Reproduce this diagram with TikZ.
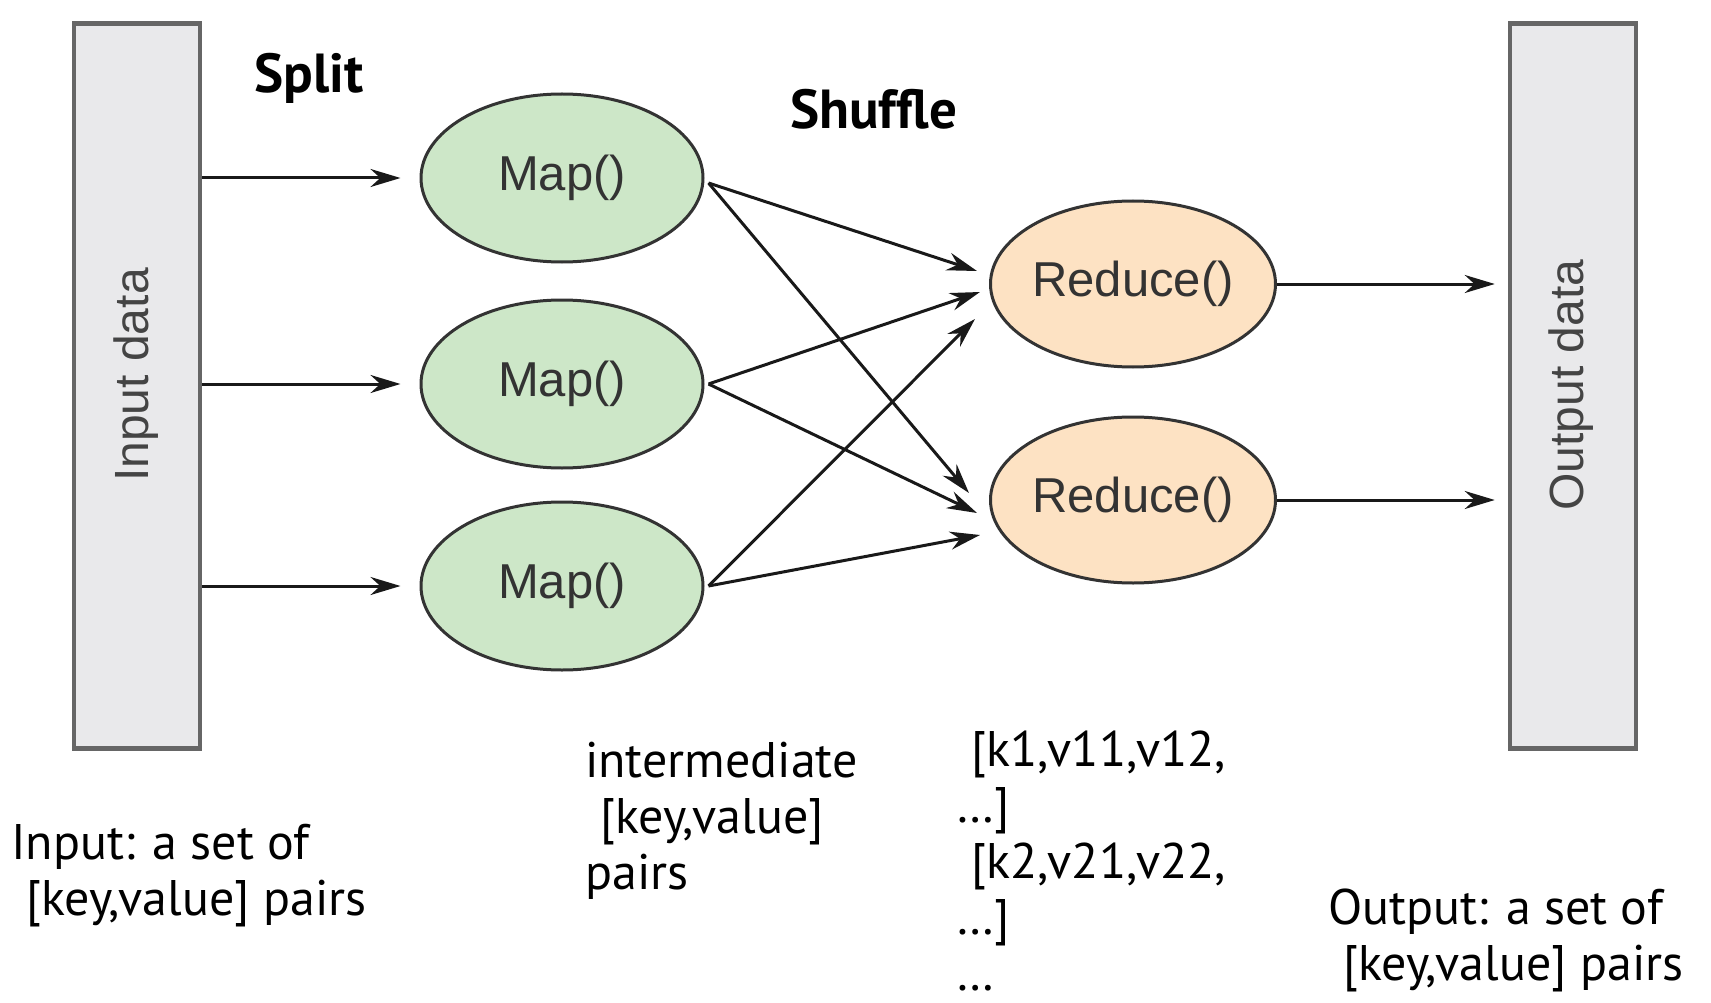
\documentclass[tikz,border=0pt]{standalone}
\usepackage{fontspec}
\setmainfont{PT Sans}
\newfontfamily\arialf{Liberation Sans}
\usetikzlibrary{shapes.geometric,arrows.meta,calc}
\definecolor{mapfill}{HTML}{CDE7C8}
\definecolor{redfill}{HTML}{FDE2C3}
\definecolor{boxfill}{HTML}{E9E9EB}
\definecolor{boxline}{HTML}{666666}
\definecolor{ellline}{HTML}{333333}
\definecolor{ltext}{HTML}{444444}
\begin{document}
\begin{tikzpicture}[x=1pt,y=-1pt,
  databox/.style={draw=boxline,fill=boxfill,line width=4.5pt,minimum width=126pt,minimum height=725pt,inner sep=0pt},
  boxlabel/.style={font=\arialf\fontsize{48}{56}\selectfont,text=ltext,rotate=90},
  mapnode/.style={ellipse,draw=ellline,line width=3pt,fill=mapfill,minimum width=282pt,minimum height=168pt,inner sep=0pt,font=\arialf\fontsize{49}{56}\selectfont,text=ellline},
  rednode/.style={ellipse,draw=ellline,line width=3pt,fill=redfill,minimum width=284pt,minimum height=166pt,inner sep=0pt,font=\arialf\fontsize{49}{56}\selectfont,text=ellline},
  arr/.style={line width=3pt,draw=black!90,-{Stealth[length=30pt,width=18pt]}},
  steplabel/.style={font=\bfseries\fontsize{55}{60}\selectfont,anchor=base west,inner sep=0pt},
  note/.style={font=\fontsize{50}{56}\selectfont,align=left,anchor=base west,inner sep=0pt}
]
\useasboundingbox (0,0) rectangle (1711,1003);
% boxes
\node[databox] (inbox) at (137,386) {};
\node[databox] (outbox) at (1573,386) {};
\node[boxlabel] (inlab) at (136,375) {Input data};
\node[boxlabel] (outlab) at (1571,385) {Output data};
% map and reduce
\node[mapnode] (m1) at (562,178) {Map()};
\node[mapnode] (m2) at (562,384) {Map()};
\node[mapnode] (m3) at (562,586) {Map()};
\node[rednode] (r1) at (1133,284) {Reduce()};
\node[rednode] (r2) at (1133,500) {Reduce()};
% input arrows
\draw[arr,shorten >=19pt] (inbox.east |- m1) -- (m1.west);
\draw[arr,shorten >=19pt] (inbox.east |- m2) -- (m2.west);
\draw[arr,shorten >=19pt] (inbox.east |- m3) -- (m3.west);
% shuffle end points
\coordinate (r1a) at ($(r1.west)+(-12,-13)$);
\coordinate (r1b) at ($(r1.west)+(-9,8)$);
\coordinate (r1c) at ($(r1.west)+(-14,35)$);
\coordinate (r2a) at ($(r2.west)+(-20,-7)$);
\coordinate (r2b) at ($(r2.west)+(-12,13)$);
\coordinate (r2c) at ($(r2.west)+(-9,35)$);
\coordinate (m1s) at ($(m1.east)+(4,5)$);
\coordinate (m2s) at ($(m2.east)+(4,0)$);
\coordinate (m3s) at ($(m3.east)+(4,0)$);
\draw[arr] (m1s) -- (r1a);
\draw[arr] (m1s) -- (r2a);
\draw[arr] (m2s) -- (r1b);
\draw[arr] (m2s) -- (r2b);
\draw[arr] (m3s) -- (r1c);
\draw[arr] (m3s) -- (r2c);
% output arrows
\draw[arr,shorten >=13pt] (r1.east) -- (outbox.west |- r1);
\draw[arr,shorten >=13pt] (r2.east) -- (outbox.west |- r2);
% labels
\node[steplabel] (split) at (254,93) {Split};
\node[steplabel] (shuffle) at (790,129) {Shuffle};
\node[note] (inote) at (11,915) {Input: a set of\\\hspace*{0.3em}[key,value] pairs};
\node[note] (mnote) at (585,889) {intermediate\\\hspace*{0.3em}[key,value]\\pairs};
\node[note] (knote) at (956,990) {\hspace*{0.3em}[k1,v11,v12,\\…]\\\hspace*{0.3em}[k2,v21,v22,\\…]\\…};
\node[note] (onote) at (1328,980) {Output: a set of\\\hspace*{0.3em}[key,value] pairs};
\end{tikzpicture}
\end{document}
